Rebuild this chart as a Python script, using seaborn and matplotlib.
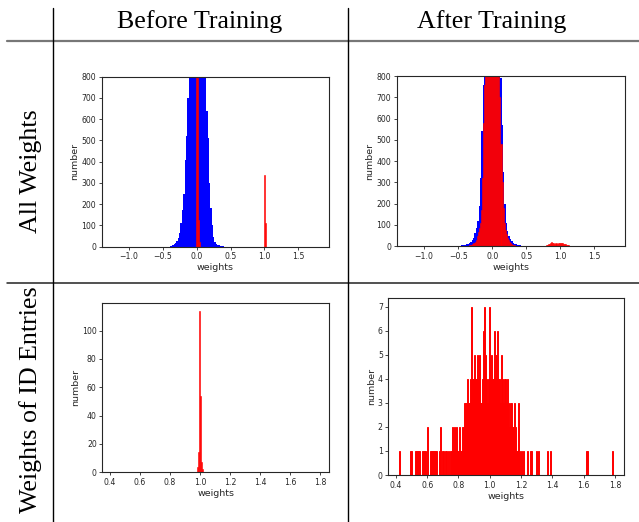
import numpy as np
import matplotlib
matplotlib.use("Agg")
import matplotlib.pyplot as plt
from matplotlib.lines import Line2D
import seaborn as sns

COL_TITLES = ["Before Training", "After Training"]
ROW_TITLES = ["All Weights", "Weights of ID Entries"]

# blue = every weight, contiguous 0.02 wide bins
BLUE_BEFORE_RANGE = (-0.40, 0.40)
BLUE_BEFORE = [2, 4, 8, 12, 18, 25, 40, 63, 110, 175,
               250, 410, 520, 700, 900, 1100, 1280, 1400, 1480, 1510,
               1500, 1460, 1380, 1260, 1090, 900, 800, 640, 510, 300,
               180, 100, 45, 24, 14, 10, 7, 5, 3, 1]
BLUE_AFTER_RANGE = (-0.46, 0.46)
BLUE_AFTER = [3, 4, 5, 7, 8, 11, 14, 18, 27, 40,
              60, 85, 120, 190, 320, 540, 760, 950, 1150, 1300,
              1400, 1460, 1480, 1480, 1450, 1390, 1290, 1140, 960, 790,
              570, 350, 200, 110, 70, 48, 32, 22, 16, 11,
              8, 6, 4, 3, 2, 1]

# red = ID related weights, 200 bins over the full weight span (bin index, count)
RED_RANGE = (-1.25, 1.80)
RED_BEFORE_BIN = [81, 82, 83, 84, 147, 148]
RED_BEFORE_N = [5000, 2500, 125, 20, 337, 110]
RED_AFTER_BIN = [60, 61, 62, 63, 64, 65, 66, 67, 68, 69,
                 70, 71, 72, 73, 74, 75, 76, 77, 78, 79,
                 80, 81, 82, 83, 84, 85, 86, 87, 88, 89,
                 90, 91, 92, 93, 94, 95, 96, 97, 98, 99,
                 100, 101, 102, 103,
                 134, 135, 136, 137, 138, 139, 140, 141, 142, 143,
                 144, 145, 146, 147, 148, 149, 150, 151, 152, 153,
                 154, 155, 156]
RED_AFTER_N = [3, 4, 6, 9, 14, 20, 30, 45, 65, 85,
               110, 170, 320, 580, 760, 900, 1050, 1200, 1300, 1380,
               1420, 1450, 1440, 1400, 1340, 1250, 1140, 1000, 850, 700,
               480, 300, 180, 110, 75, 55, 40, 28, 19, 12,
               8, 6, 4, 3,
               3, 5, 8, 10, 14, 18, 12, 15, 10, 13,
               11, 14, 16, 12, 15, 13, 11, 9, 8, 6,
               4, 3, 2]

# ID entries only, 200 bins (bin index, count)
ID_RANGE = (0.42, 1.79)
ID_BEFORE_BIN = [82, 83, 84, 85, 86, 87]
ID_BEFORE_N = [4, 14, 114, 54, 7, 2]
ID_AFTER_BIN = [0, 10, 11, 15, 16, 17, 18, 19, 21, 22, 23, 24, 26, 29, 30, 31, 32, 33, 34, 37,
                38, 40, 41, 43, 44, 46, 48, 49, 50, 51, 52, 53, 54, 55, 56, 57, 58, 59, 60, 61,
                62, 63, 64, 65, 66, 67, 68, 69, 70, 71, 72, 73, 74, 75, 76, 77, 78, 79, 80, 81,
                82, 83, 84, 85, 86, 87, 88, 89, 90, 91, 92, 93, 94, 95, 96, 97, 98, 99, 100, 101,
                102, 103, 104, 105, 106, 107, 108, 109, 110, 111, 112, 114, 116, 119, 122, 123, 128, 130, 138, 141,
                175, 199]
ID_AFTER_N = [1, 1, 1, 1, 1, 1, 1, 1, 1, 1, 1, 1, 2, 1, 1, 1, 1, 1, 1, 1,
              2, 1, 1, 1, 1, 1, 1, 2, 1, 2, 1, 2, 1, 1, 2, 1, 1, 2, 2, 3,
              3, 4, 3, 3, 4, 7, 4, 4, 5, 4, 4, 5, 4, 5, 3, 4, 6, 7, 5, 4,
              3, 4, 7, 4, 5, 4, 4, 6, 5, 6, 4, 4, 3, 5, 4, 3, 4, 4, 3, 4,
              3, 2, 3, 2, 2, 3, 2, 1, 1, 3, 1, 1, 1, 1, 1, 1, 1, 1, 1, 1,
              1, 1]

N_BINS = 200


def bin_centers(rng, idx, n):
    width = (rng[1] - rng[0]) / n
    return rng[0] + (np.asarray(idx) + 0.5) * width


def blue_hist(ax, rng, counts):
    n = len(counts)
    x = bin_centers(rng, np.arange(n), n)
    sns.histplot(x=x, weights=counts, bins=n, binrange=rng, color="blue",
                 alpha=1, linewidth=0, ax=ax)


def red_hist(ax, rng, idx, counts, lw=0.4):
    x = bin_centers(rng, idx, N_BINS)
    sns.histplot(x=x, weights=counts, bins=N_BINS, binrange=rng, color="red",
                 edgecolor="red", alpha=1, linewidth=lw, ax=ax)


sns.set_theme(style="ticks")
plt.rcParams.update({
    "font.family": ["DejaVu Sans"],
    "xtick.labelsize": 5.6,
    "ytick.labelsize": 5.6,
    "axes.labelsize": 6.8,
    "xtick.major.size": 2.5,
    "ytick.major.size": 2.5,
    "xtick.major.width": 0.6,
    "ytick.major.width": 0.6,
    "xtick.major.pad": 1.5,
    "ytick.major.pad": 1.5,
    "axes.labelpad": 1.5,
    "axes.linewidth": 0.8,
})

fig = plt.figure(figsize=(6.39, 5.22), dpi=100)
ax_tl = fig.add_axes([0.1592, 0.5274, 0.3557, 0.3257])
ax_tr = fig.add_axes([0.6208, 0.5287, 0.3573, 0.3257])
ax_bl = fig.add_axes([0.1601, 0.0952, 0.3552, 0.3249])
ax_br = fig.add_axes([0.6077, 0.0900, 0.3688, 0.3385])

blue_hist(ax_tl, BLUE_BEFORE_RANGE, BLUE_BEFORE)
red_hist(ax_tl, RED_RANGE, RED_BEFORE_BIN, RED_BEFORE_N)
blue_hist(ax_tr, BLUE_AFTER_RANGE, BLUE_AFTER)
red_hist(ax_tr, RED_RANGE, RED_AFTER_BIN, RED_AFTER_N)
red_hist(ax_bl, ID_RANGE, ID_BEFORE_BIN, ID_BEFORE_N)
red_hist(ax_br, ID_RANGE, ID_AFTER_BIN, ID_AFTER_N, lw=0.7)

for ax in (ax_tl, ax_tr):
    ax.set_ylim(0, 800)
for ax in (ax_tl, ax_tr, ax_bl, ax_br):
    ax.set_xlabel("weights")
    ax.set_ylabel("number")

# table frame around the panels
serif = dict(family=["Liberation Serif", "DejaVu Serif"], fontsize=18.7, color="black")
fig.text(200 / 639, 1 - 22 / 522, COL_TITLES[0], ha="center", va="center", **serif)
fig.text(492 / 639, 1 - 22 / 522, COL_TITLES[1], ha="center", va="center", **serif)
fig.text(31 / 639, 1 - 171 / 522, ROW_TITLES[0], ha="center", va="center", rotation=90, **serif)
fig.text(31 / 639, 1 - 400 / 522, ROW_TITLES[1], ha="center", va="center", rotation=90, **serif)

fig.add_artist(Line2D([7 / 639, 1], [1 - 41 / 522] * 2, color="#777777", lw=1.6))
fig.add_artist(Line2D([7 / 639, 1], [1 - 282.5 / 522] * 2, color="#222222", lw=1.1))
fig.add_artist(Line2D([52.5 / 639] * 2, [0, 1 - 8 / 522], color="black", lw=1.0))
fig.add_artist(Line2D([347.5 / 639] * 2, [0, 1 - 8 / 522], color="black", lw=1.0))

fig.savefig("out.png", dpi=100)
